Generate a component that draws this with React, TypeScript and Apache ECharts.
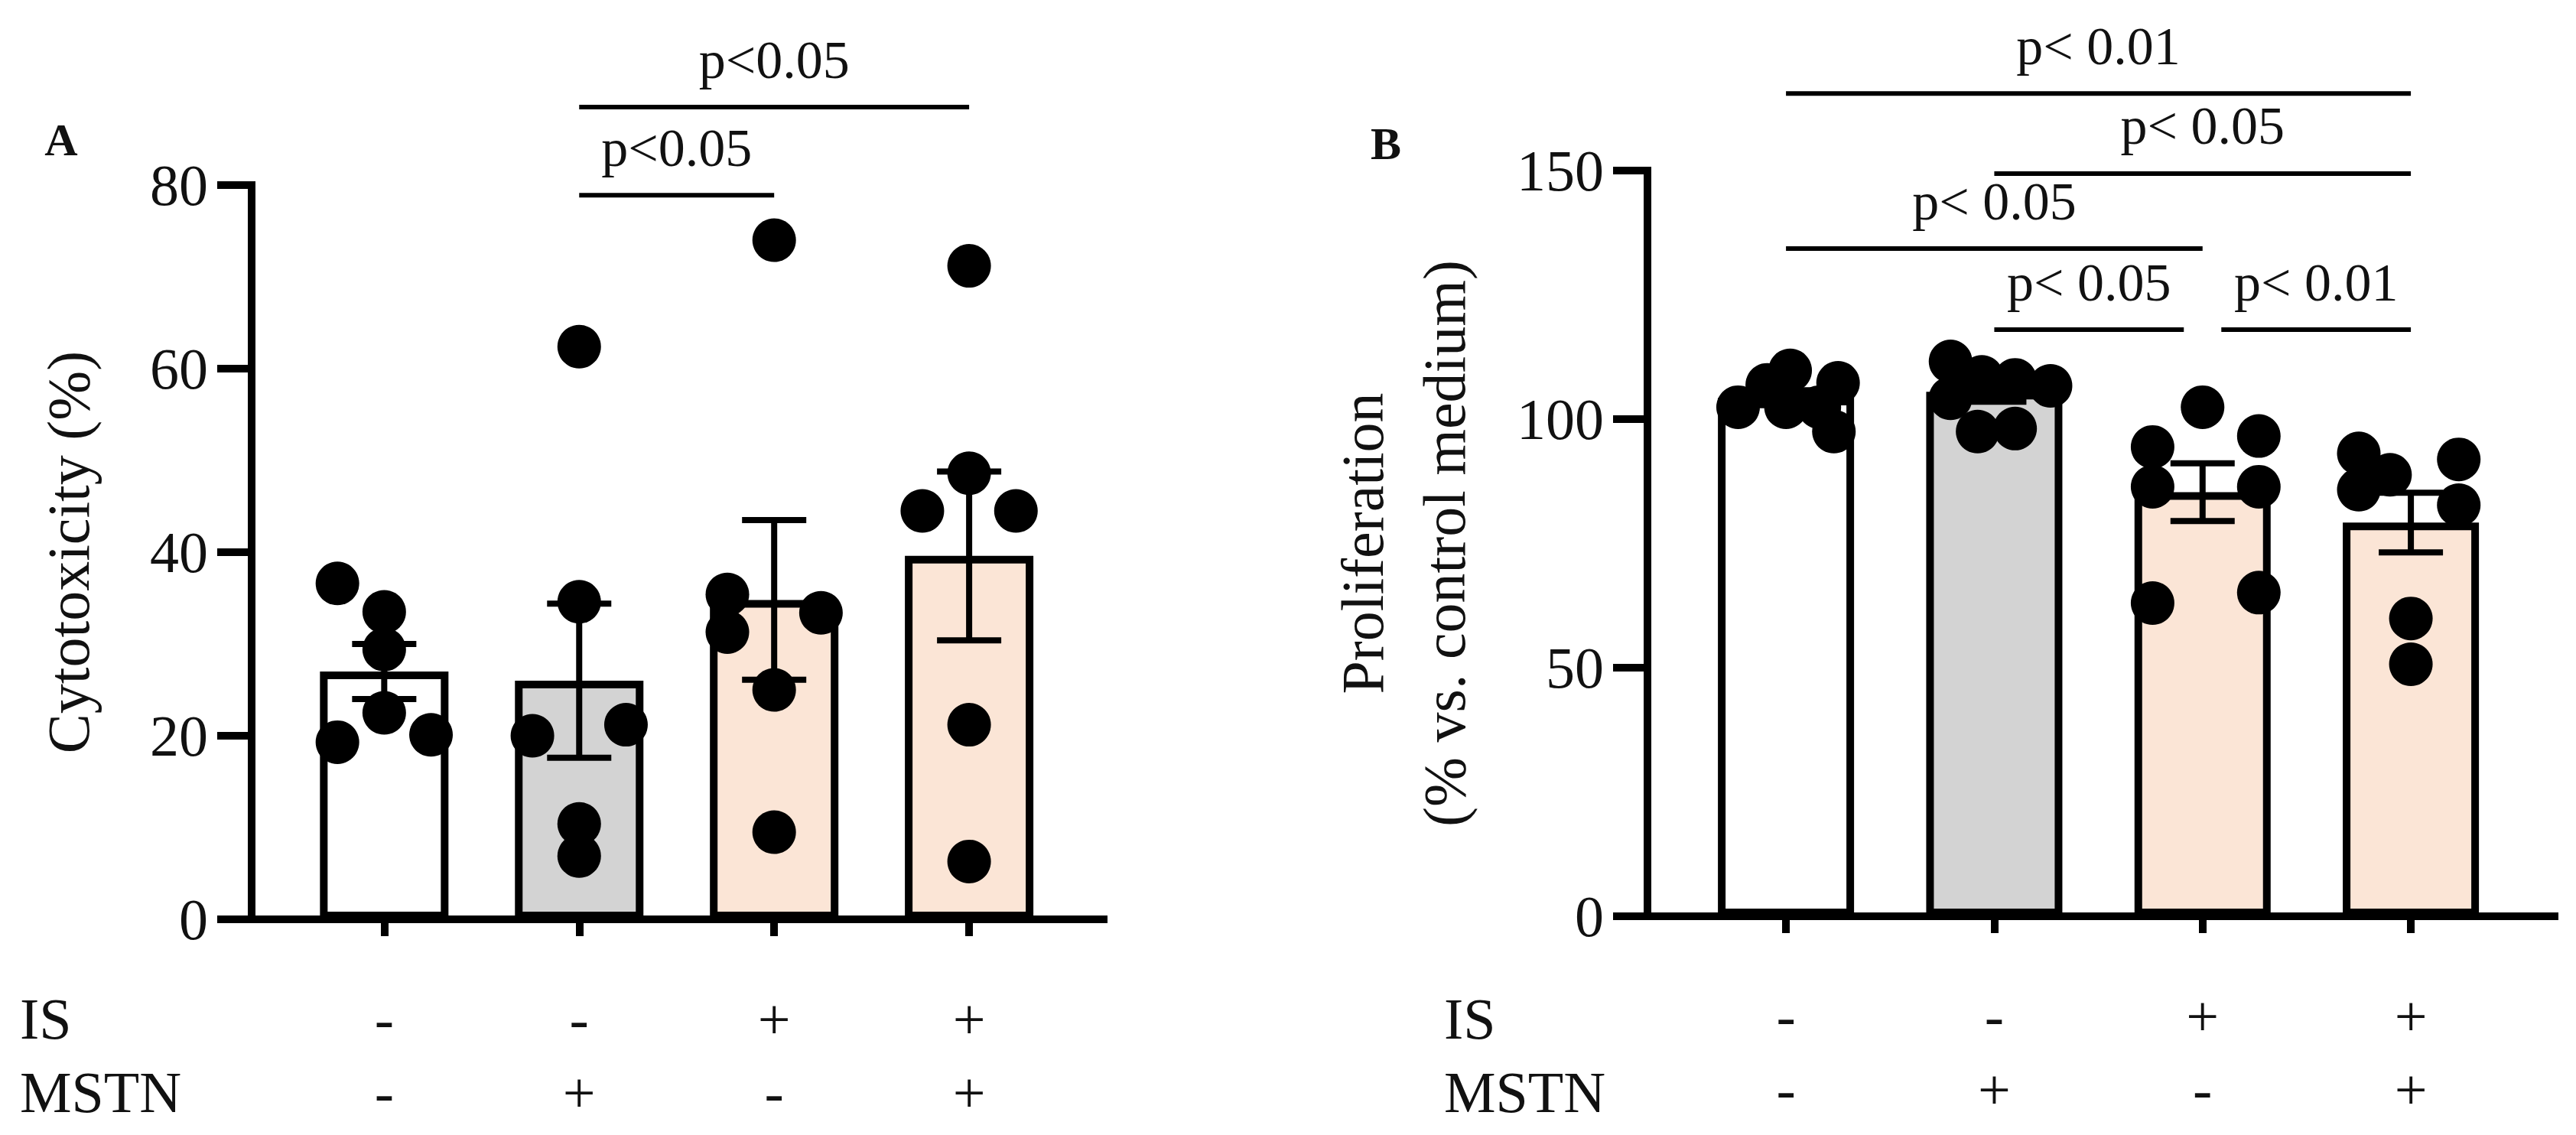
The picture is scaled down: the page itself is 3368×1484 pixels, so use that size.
import React, { useEffect, useRef } from 'react';
import * as echarts from 'echarts';

const FONT = "'Liberation Serif', 'DejaVu Serif', serif";
const INK = '#111111';

// groups, bottom sign table
const isSigns = ['-', '-', '+', '+'];
const mstnSigns = ['-', '+', '-', '+'];
const barColors = ['#ffffff', '#d3d3d3', '#fbe5d6', '#fbe5d6'];

// A: cytotoxicity (%)
const cytoMean = [27.0, 26.0, 34.8, 39.6];
const cytoSem = [3.0, 8.4, 8.7, 9.2];
const cytoDots = [
  [36.6, 33.5, 29.4, 22.5, 19.3, 20.1],
  [62.4, 34.6, 20.0, 21.2, 10.4, 6.9],
  [74.0, 35.4, 31.3, 33.4, 25.0, 9.5],
  [71.2, 48.6, 44.5, 44.5, 21.2, 6.3],
];
const cytoJitter = [
  [-0.24, 0, 0, 0, -0.24, 0.24],
  [0, 0, -0.24, 0.24, 0, 0],
  [0, -0.24, -0.24, 0.24, 0, 0],
  [0, 0, -0.24, 0.24, 0, 0],
];
const cytoPairs = [[1, 2], [1, 3]];
const cytoLevels = [78.9, 88.5];
const cytoLabels = ['p<0.05', 'p<0.05'];

// B: proliferation (% vs. control medium)
const prolMean = [104.3, 105.5, 85.3, 79.2];
const prolSem = [1.5, 2.0, 5.8, 6.0];
const prolDots = [
  [102.4, 106.9, 109.8, 102.4, 102.4, 107.3, 97.5],
  [111.6, 104.2, 108.5, 107.9, 106.7, 97.5, 98.1],
  [102.4, 94.4, 96.6, 86.4, 86.4, 63.0, 65.1],
  [93.1, 91.9, 88.8, 85.8, 82.7, 59.9, 50.7],
];
const prolJitter = [
  [-0.23, -0.09, 0.02, 0, 0.16, 0.25, 0.23],
  [-0.21, -0.21, -0.06, 0.1, 0.27, -0.08, 0.1],
  [0, -0.24, 0.27, -0.24, 0.27, -0.24, 0.27],
  [-0.25, 0.23, -0.1, -0.25, 0.23, 0, 0],
];
const prolPairs = [[0, 3], [1, 3], [0, 2], [1, 1.91], [2.09, 3]];
const prolLevels = [165.5, 149.4, 134.3, 118.0, 118.0];
const prolLabels = ['p< 0.01', 'p< 0.05', 'p< 0.05', 'p< 0.05', 'p< 0.01'];

const catTicks = [0, 1, 2, 3];

function panelSeries(
  idx: number,
  mean: number[],
  sem: number[],
  dots: number[][],
  jitter: number[][],
  pairs: number[][],
  levels: number[],
  labels: string[],
  barWidth: number
) {
  const axes = { xAxisIndex: idx, yAxisIndex: idx };
  return [
    {
      type: 'bar',
      ...axes,
      barWidth,
      data: mean.map((m, i) => ({
        value: [i, m],
        itemStyle: { color: barColors[i], borderColor: '#000', borderWidth: 10 },
      })),
      z: 2,
    },
    {
      type: 'custom',
      ...axes,
      clip: false,
      z: 3,
      encode: { x: 0, y: [1, 2] },
      data: mean.map((m, i) => [i, m - sem[i], m + sem[i]]),
      renderItem: (params: any, api: any) => {
        const x = api.value(0);
        const top = api.coord([x, api.value(2)]);
        const bot = api.coord([x, api.value(1)]);
        const cap = 42;
        const style = { stroke: '#000', lineWidth: 8 };
        return {
          type: 'group',
          children: [
            { type: 'line', shape: { x1: top[0], y1: top[1], x2: bot[0], y2: bot[1] }, style },
            { type: 'line', shape: { x1: top[0] - cap, y1: top[1], x2: top[0] + cap, y2: top[1] }, style },
            { type: 'line', shape: { x1: bot[0] - cap, y1: bot[1], x2: bot[0] + cap, y2: bot[1] }, style },
          ],
        };
      },
    },
    {
      type: 'scatter',
      ...axes,
      symbol: 'circle',
      symbolSize: 57,
      itemStyle: { color: '#000', opacity: 1 },
      z: 4,
      data: dots.flatMap((vals, i) => vals.map((v, k) => [i + jitter[i][k], v])),
    },
    {
      type: 'custom',
      ...axes,
      clip: false,
      z: 5,
      encode: { x: [0, 1], y: 2 },
      data: pairs.map((p, k) => [p[0], p[1], levels[k]]),
      renderItem: (params: any, api: any) => {
        const a = api.coord([api.value(0), api.value(2)]);
        const b = api.coord([api.value(1), api.value(2)]);
        return {
          type: 'group',
          children: [
            { type: 'line', shape: { x1: a[0], y1: a[1], x2: b[0], y2: b[1] }, style: { stroke: '#000', lineWidth: 6 } },
            {
              type: 'text',
              style: {
                text: labels[params.dataIndex],
                x: (a[0] + b[0]) / 2,
                y: a[1] - 62,
                align: 'center',
                verticalAlign: 'middle',
                fontSize: 70,
                fontFamily: FONT,
                fill: INK,
              },
            },
          ],
        };
      },
    },
  ];
}

function xAxisFor(idx: number, min: number, max: number) {
  return {
    type: 'value',
    gridIndex: idx,
    min,
    max,
    splitLine: { show: false },
    axisLine: { show: true, onZero: false, lineStyle: { color: '#000', width: 10, cap: 'square' } },
    axisTick: { show: true, customValues: catTicks, length: 22, lineStyle: { color: '#000', width: 10 } },
    axisLabel: {
      show: true,
      customValues: catTicks,
      formatter: (v: number) => `${isSigns[Math.round(v)]}\n${mstnSigns[Math.round(v)]}`,
      fontSize: 76,
      lineHeight: 96,
      margin: 82,
      fontFamily: FONT,
      color: INK,
    },
  };
}

function yAxisFor(idx: number, max: number, interval: number, name: string, nameGap: number, lineHeight: number) {
  return {
    type: 'value',
    gridIndex: idx,
    min: 0,
    max,
    interval,
    name,
    nameLocation: 'middle',
    nameRotate: 90,
    nameGap,
    nameTextStyle: { fontSize: 78, lineHeight, fontFamily: FONT, color: INK },
    splitLine: { show: false },
    axisLine: { show: true, onZero: false, lineStyle: { color: '#000', width: 10, cap: 'square' } },
    axisTick: { show: true, length: 45, lineStyle: { color: '#000', width: 10 } },
    axisLabel: { fontSize: 76, margin: 57, fontFamily: FONT, color: INK },
  };
}

export default function App() {
  const chartRef = useRef<HTMLDivElement>(null);

  useEffect(() => {
    if (!chartRef.current) return;
    const chart = echarts.init(chartRef.current, null, { renderer: 'svg' });

    const labelStyle = { fontSize: 76, fontFamily: FONT, fill: INK, verticalAlign: 'middle' };

    chart.setOption({
      animation: false,
      backgroundColor: '#ffffff',
      grid: [
        { left: 329, top: 242, width: 1114, height: 960 },
        { left: 2154, top: 223, width: 1186, height: 975 },
      ],
      xAxis: [xAxisFor(0, -0.68, 3.69), xAxisFor(1, -0.665, 3.69)],
      yAxis: [
        yAxisFor(0, 80, 20, 'Cytotoxicity (%)', 201, 78),
        yAxisFor(1, 150, 50, 'Proliferation\n(% vs. control medium)', 212, 107),
      ],
      series: [
        ...panelSeries(0, cytoMean, cytoSem, cytoDots, cytoJitter, cytoPairs, cytoLevels, cytoLabels, 168),
        ...panelSeries(1, prolMean, prolSem, prolDots, prolJitter, prolPairs, prolLevels, prolLabels, 178),
      ],
      graphic: [
        { type: 'text', x: 80, y: 183, style: { text: 'A', fontSize: 60, fontWeight: 'bold', fontFamily: FONT, fill: INK, align: 'center', verticalAlign: 'middle' } },
        { type: 'text', x: 1812, y: 188, style: { text: 'B', fontSize: 60, fontWeight: 'bold', fontFamily: FONT, fill: INK, align: 'center', verticalAlign: 'middle' } },
        { type: 'text', x: 26, y: 1332, style: { ...labelStyle, text: 'IS' } },
        { type: 'text', x: 26, y: 1428, style: { ...labelStyle, text: 'MSTN' } },
        { type: 'text', x: 1888, y: 1332, style: { ...labelStyle, text: 'IS' } },
        { type: 'text', x: 1888, y: 1428, style: { ...labelStyle, text: 'MSTN' } },
      ],
    });

    return () => {
      chart.dispose();
    };
  }, []);

  return (
    <div
      ref={chartRef}
      style={{ position: 'absolute', left: 0, top: 0, width: '3368px', height: '1484px', background: '#fff' }}
    />
  );
}
